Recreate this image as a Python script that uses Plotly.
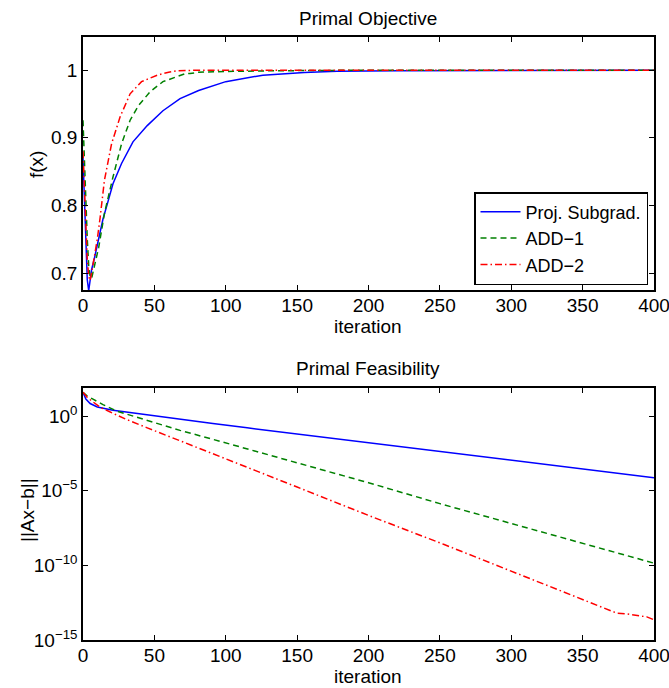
import plotly.graph_objects as go

# ---------------- data ----------------
# Primal objective f(x)
obj_blue_it = [0, 1, 2, 3, 4, 5, 6, 8, 10, 12, 14, 17, 21, 27, 35, 45, 56, 68, 81, 100, 117, 126, 155, 178, 220, 259, 261, 400]
obj_blue = [0.87, 0.80, 0.74, 0.69, 0.674, 0.69, 0.705, 0.722, 0.742, 0.763, 0.78, 0.802, 0.832, 0.862, 0.894, 0.918, 0.940, 0.958, 0.970, 0.983, 0.989, 0.9926, 0.9965, 0.9985, 0.9992, 0.9993, 1.0, 1.0]

obj_green_it = [0, 1, 2, 3, 4, 5, 6, 8, 11, 15, 21, 27, 33, 39, 47, 56, 68, 72, 75, 81, 100, 130, 200, 400]
obj_green = [0.926, 0.86, 0.80, 0.75, 0.71, 0.695, 0.692, 0.71, 0.738, 0.788, 0.842, 0.891, 0.926, 0.948, 0.968, 0.983, 0.9926, 0.995, 0.995, 0.997, 0.998, 0.999, 1.0, 1.0]

obj_red_it = [0, 1, 2, 3, 4, 5, 6, 8, 10, 12, 15, 20, 26, 33, 41, 52, 60, 66, 80, 400]
obj_red = [0.88, 0.82, 0.76, 0.72, 0.695, 0.689, 0.70, 0.723, 0.75, 0.782, 0.837, 0.891, 0.931, 0.965, 0.983, 0.9926, 0.997, 0.999, 1.0, 1.0]

# Primal feasibility ||Ax-b|| (log10 of the values)
feas_blue_it = [0, 2, 5, 10, 21, 45, 68, 91, 115, 138, 175, 200, 250, 300, 350, 400]
feas_blue_log10 = [1.6, 1.15, 0.85, 0.62, 0.40, 0.08, -0.2, -0.49, -0.78, -1.05, -1.49, -1.79, -2.39, -2.97, -3.55, -4.12]

feas_green_it = [0, 3, 7, 14, 24, 44, 68, 91, 115, 135, 175, 200, 250, 300, 350, 400]
feas_green_log10 = [1.6, 1.35, 1.14, 0.78, 0.33, -0.27, -0.95, -1.55, -2.18, -2.72, -3.79, -4.46, -5.86, -7.2, -8.55, -9.85]

feas_red_it = [0, 3, 7, 12, 18, 30, 45, 66, 90, 126, 150, 200, 253, 300, 340, 374, 381, 390, 395, 400]
feas_red_log10 = [1.6, 1.25, 0.96, 0.6, 0.33, -0.2, -0.78, -1.56, -2.48, -3.84, -4.75, -6.65, -8.6, -10.4, -11.95, -13.2, -13.25, -13.37, -13.45, -13.65]

series_names = ["Proj. Subgrad.", "ADD\u22121", "ADD\u22122"]
x_ticks = [0, 50, 100, 150, 200, 250, 300, 350, 400]
obj_ticks = [0.7, 0.8, 0.9, 1.0]
obj_ticktext = ["0.7", "0.8", "0.9", "1"]
feas_ticks = [1e0, 1e-5, 1e-10, 1e-15]
feas_ticktext = ["10<sup>0</sup>", "10<sup>\u22125</sup>", "10<sup>\u221210</sup>", "10<sup>\u221215</sup>"]

# ---------------- styling ----------------
W, H = 669, 688
ML, MR, MT, MB = 83, 15, 37, 48
PH = H - MT - MB


def py2paper(py):
    return (H - MB - py) / PH


def px2paper(px):
    return (px - ML) / (W - ML - MR)


FONT = "Liberation Sans, Arial, Helvetica, sans-serif"
FS = 19
colors = ["#0000FF", "#008000", "#FF0000"]
dashes = ["solid", "6px,4px", "7px,3px,1.5px,3px"]

fig = go.Figure()

obj_data = [(obj_blue_it, obj_blue), (obj_green_it, obj_green), (obj_red_it, obj_red)]
for i, (xs, ys) in enumerate(obj_data):
    fig.add_trace(go.Scatter(x=xs, y=ys, mode="lines", name=series_names[i],
                             line=dict(color=colors[i], width=1.5, dash=dashes[i]),
                             xaxis="x", yaxis="y", showlegend=True))

feas_data = [(feas_blue_it, feas_blue_log10), (feas_green_it, feas_green_log10), (feas_red_it, feas_red_log10)]
for i, (xs, es) in enumerate(feas_data):
    fig.add_trace(go.Scatter(x=xs, y=[10 ** e for e in es], mode="lines", name=series_names[i],
                             line=dict(color=colors[i], width=1.5, dash=dashes[i]),
                             xaxis="x2", yaxis="y2", showlegend=False))

axis_common = dict(showline=True, linecolor="black", linewidth=1.5, mirror="allticks",
                   ticks="inside", ticklen=5, tickwidth=1, tickcolor="black",
                   showgrid=False, zeroline=False, automargin=False,
                   ticklabeloverflow="allow",
                   tickfont=dict(family=FONT, size=FS, color="black"))

fig.update_layout(
    width=W, height=H,
    margin=dict(l=ML, r=MR, t=MT, b=MB, autoexpand=False),
    paper_bgcolor="white", plot_bgcolor="white",
    font=dict(family=FONT, size=FS, color="black"),
    xaxis=dict(domain=[0, 1], range=[0, 400], tickvals=x_ticks, anchor="y",
               ticklabelstandoff=-3, **axis_common),
    yaxis=dict(domain=[py2paper(290), 1], range=[0.675, 1.049], tickvals=obj_ticks,
               ticktext=obj_ticktext, anchor="x", **axis_common),
    xaxis2=dict(domain=[0, 1], range=[0, 400], tickvals=x_ticks, anchor="y2",
                ticklabelstandoff=-3, **axis_common),
    yaxis2=dict(domain=[0, py2paper(388)], type="log", range=[-15, 1.89], tickvals=feas_ticks,
                ticktext=feas_ticktext, anchor="x2", **axis_common),
    legend=dict(x=px2paper(648), y=py2paper(285), xanchor="right", yanchor="bottom",
                bgcolor="white", bordercolor="black", borderwidth=1.5,
                font=dict(family=FONT, size=18, color="black"),
                tracegroupgap=0, itemwidth=40),
    showlegend=True,
)

annots = [
    dict(text="Primal Objective", x=px2paper(368), y=py2paper(19)),
    dict(text="iteration", x=px2paper(368), y=py2paper(326)),
    dict(text="Primal Feasibility", x=px2paper(368), y=py2paper(368)),
    dict(text="iteration", x=px2paper(368), y=py2paper(676)),
    dict(text="f(x)", x=px2paper(36), y=py2paper(165), textangle=-90),
    dict(text="||Ax\u2212b||", x=px2paper(27), y=py2paper(510), textangle=-90),
]
for a in annots:
    fig.add_annotation(xref="paper", yref="paper", xanchor="center", yanchor="middle",
                       showarrow=False, font=dict(family=FONT, size=FS, color="black"), **a)

fig.write_html("out.html", config={"displayModeBar": False},
               post_script="document.body.style.margin='0';document.body.style.padding='0';document.body.style.overflow='hidden';")
